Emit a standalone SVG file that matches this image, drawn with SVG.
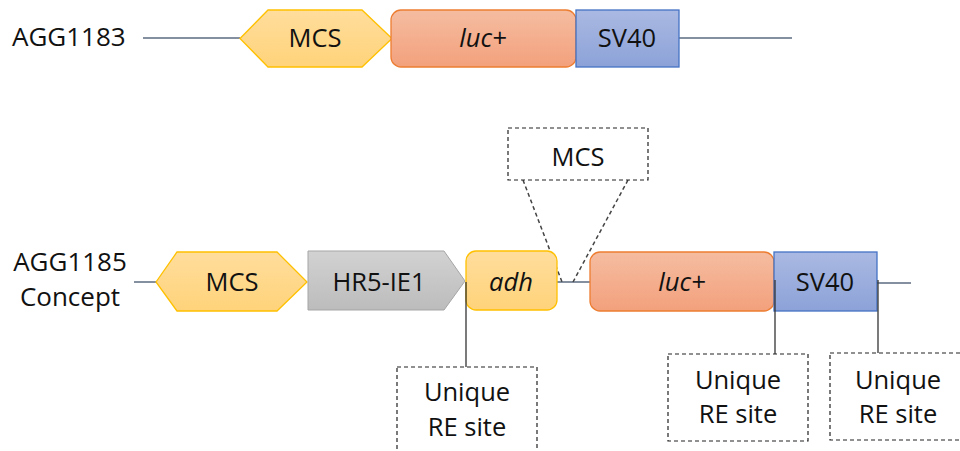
<svg xmlns="http://www.w3.org/2000/svg" width="960" height="451" viewBox="0 0 960 451">
<defs>
<linearGradient id="gY" x1="0" y1="0" x2="0" y2="1"><stop offset="0" stop-color="#FFDD9C"/><stop offset="1" stop-color="#FFD37A"/></linearGradient>
<linearGradient id="gO" x1="0" y1="0" x2="0" y2="1"><stop offset="0" stop-color="#F5BDA1"/><stop offset="1" stop-color="#F3A07C"/></linearGradient>
<linearGradient id="gB" x1="0" y1="0" x2="0" y2="1"><stop offset="0" stop-color="#AAB9E2"/><stop offset="1" stop-color="#8CA2D8"/></linearGradient>
<linearGradient id="gG" x1="0" y1="0" x2="0" y2="1"><stop offset="0" stop-color="#D2D2D2"/><stop offset="1" stop-color="#BCBCBC"/></linearGradient>
</defs>
<style>
text{font-family:"Open Sans","Liberation Sans",sans-serif;font-size:25.5px;fill:#111;}
.lbl{font-size:26px;}
.c{text-anchor:middle;}
.it{font-style:italic;}
.y{fill:url(#gY);stroke:#FFC000;stroke-width:1.3;}
.o{fill:url(#gO);stroke:#ED7D31;stroke-width:1.3;}
.b{fill:url(#gB);stroke:#4472C4;stroke-width:1.3;}
.g{fill:url(#gG);stroke:#A5A5A5;stroke-width:1;}
.bb{fill:none;stroke:#5B6B80;stroke-width:1.5;}
.dash{fill:#fff;stroke:#222;stroke-width:1.2;stroke-dasharray:4 3;}
.dl{fill:none;stroke:#444;stroke-width:1.5;stroke-dasharray:4 3;}
.tick{fill:none;stroke:#333;stroke-width:1.3;}
</style>
<g id="connectors">
<line class="bb" x1="143" y1="38" x2="240" y2="38"/>
<line class="bb" x1="679" y1="38" x2="792" y2="38"/>
<line class="bb" x1="134" y1="282" x2="156" y2="282"/>
<line class="bb" x1="557" y1="282" x2="590" y2="282"/>
<line class="bb" x1="877" y1="283" x2="911" y2="283"/>
<line class="dl" x1="523" y1="180" x2="562" y2="282"/>
<line class="dl" x1="628" y1="180" x2="573" y2="282"/>
</g>
<g id="label-agg1183"><text class="lbl" x="12" y="46">AGG1183</text></g>
<g id="mcs-top"><polygon class="y" points="240,38.5 268,10 362,10 392,38.5 362,67 268,67"/><text class="c" x="315" y="47">MCS</text></g>
<g id="luc-top"><rect class="o" x="391" y="10" width="185" height="57" rx="10"/><text class="c it" x="483" y="47">luc+</text></g>
<g id="sv40-top"><rect class="b" x="576" y="10" width="103" height="57"/><text class="c" x="627" y="47">SV40</text></g>
<g id="label-agg1185"><text class="lbl c" x="70" y="271">AGG1185</text><text class="lbl c" x="70" y="306">Concept</text></g>
<g id="mcs-bottom"><polygon class="y" points="156,282 177,252 277,252 307,282 277,311 177,311"/><text class="c" x="232" y="291">MCS</text></g>
<g id="hr5"><polygon class="g" points="308,251 444,251 465,281 444,310 308,310"/><text class="c" x="379" y="291">HR5-IE1</text></g>
<g id="adh"><rect class="y" x="466" y="251" width="91" height="59" rx="10"/><text class="c it" x="511" y="291">adh</text></g>
<g id="luc-bottom"><rect class="o" x="590" y="252" width="184" height="59" rx="10"/><text class="c it" x="682" y="291">luc+</text></g>
<g id="sv40-bottom"><rect class="b" x="774" y="252" width="103" height="59"/><text class="c" x="825" y="291">SV40</text></g>
<g id="mcs-insert"><rect class="dash" x="508" y="128" width="140" height="52"/><text class="c" x="578" y="166">MCS</text></g>
<g id="re-sites">
<line class="tick" x1="466" y1="282" x2="466" y2="367"/>
<line class="tick" x1="775" y1="280" x2="775" y2="354"/>
<line class="tick" x1="878" y1="280" x2="878" y2="353"/>
</g>
<g id="re1"><rect class="dash" x="397" y="367" width="140" height="90"/><text class="c" x="467" y="401">Unique</text><text class="c" x="467" y="436">RE site</text></g>
<g id="re2"><rect class="dash" x="668" y="354" width="140" height="87"/><text class="c" x="738" y="389">Unique</text><text class="c" x="738" y="423">RE site</text></g>
<g id="re3"><rect class="dash" x="830" y="353" width="140" height="87"/><text class="c" x="898" y="389">Unique</text><text class="c" x="898" y="423">RE site</text></g>
</svg>
